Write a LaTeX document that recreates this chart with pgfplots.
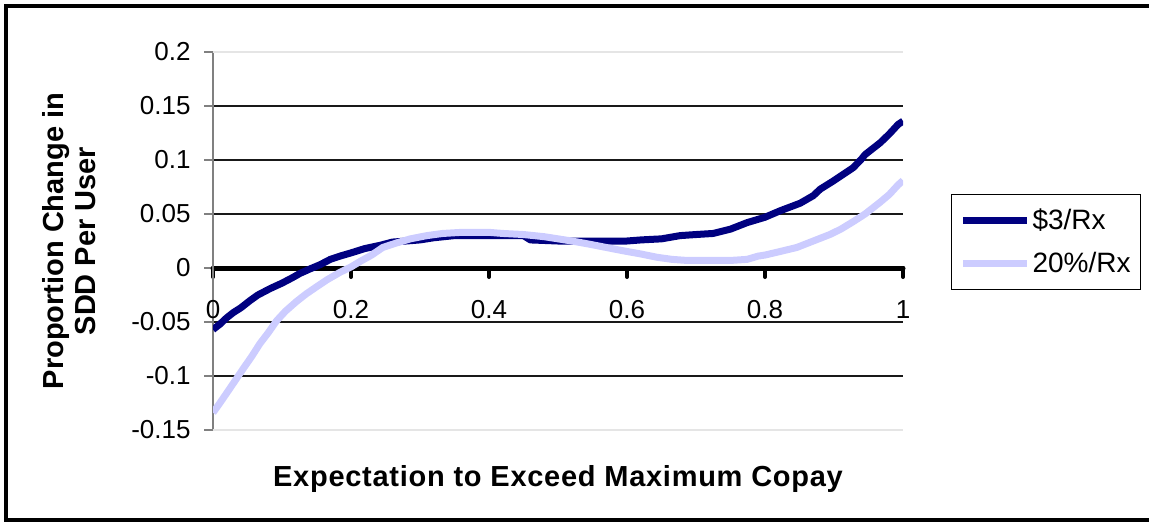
\documentclass[border=0pt]{standalone}
\usepackage{fontspec}
\setmainfont{Liberation Sans}
\usepackage{pgfplots}
\pgfplotsset{compat=1.18}
\definecolor{navyline}{RGB}{0,0,128}
\definecolor{lavline}{RGB}{204,204,255}
\definecolor{axisgray}{RGB}{128,128,128}

\begin{document}
\begin{tikzpicture}
% outer chart frame (right side runs off the page)
\draw[line width=1.75pt] (580pt,3.5pt) -- (3pt,3.5pt) -- (3pt,260.5pt) -- (580pt,260.5pt);
\begin{axis}[
  at={(106.5pt,48.5pt)}, anchor=south west,
  scale only axis, width=345pt, height=189pt,
  xmin=0, xmax=1, ymin=-0.15, ymax=0.2,
  axis x line*=middle, axis y line*=left,
  hide obscured x ticks=false, hide obscured y ticks=false,
  x axis line style={black, line width=2.5pt, line cap=round},
  y axis line style={axisgray, line width=0.75pt},
  xtick={0,0.2,0.4,0.6,0.8,1},
  xticklabels={0,0.2,0.4,0.6,0.8,1},
  ytick={-0.1,-0.05,0,0.05,0.1,0.15},
  yticklabels={-0.1,-0.05,0,0.05,0.1,0.15},
  extra y ticks={-0.15,0.2},
  extra y tick labels={-0.15,0.2},
  extra y tick style={grid=major, y grid style={black!10, line width=0.6pt},
    major grid style={black!10, line width=0.6pt}},
  ymajorgrids,
  y grid style={black!90, line width=0.55pt},
  tick align=outside,
  major tick length=4.5pt,
  xtick style={black, line width=2pt, line cap=round},
  ytick style={axisgray, line width=0.6pt},
  xticklabel style={font=\fontsize{13}{15}\selectfont, anchor=center, inner sep=0pt, yshift=-16.5pt},
  yticklabel style={font=\fontsize{13}{15}\selectfont, anchor=east, inner sep=0pt, xshift=-6.5pt},
  every axis x label/.style={at={(rel axis cs:0.5,-0.1296)}, anchor=center},
  every axis y label/.style={at={(rel axis cs:-0.2080,0.5)}, anchor=center, rotate=90},
  xlabel={\addfontfeature{LetterSpace=2.5}Expectation to Exceed Maximum Copay},
  xlabel style={font=\fontsize{14.5}{15}\selectfont\bfseries},
  ylabel={Proportion Change in\\SDD Per User},
  ylabel style={align=center, font=\fontsize{14.5}{16}\selectfont\bfseries},
  legend style={at={(1.0696,0.6243)}, anchor=north west, draw=black, line width=0.5pt,
    font=\fontsize{14}{16}\selectfont, inner xsep=4pt, inner ysep=6pt, row sep=8pt,
    nodes={inner sep=1pt}},
  legend cell align=left,
  legend image code/.code={\draw[#1] (0pt,0pt) -- (32pt,0pt);},
]
\addplot[navyline, line width=3.5pt, line join=round] coordinates {
(0.000,-0.057) (0.010,-0.052) (0.020,-0.046) (0.030,-0.041) (0.040,-0.037)
(0.054,-0.030) (0.065,-0.025) (0.083,-0.019) (0.100,-0.014) (0.115,-0.009)
(0.126,-0.005) (0.140,-0.001) (0.155,0.003) (0.170,0.008) (0.184,0.011)
(0.200,0.014) (0.220,0.018) (0.242,0.021) (0.260,0.024) (0.280,0.025)
(0.300,0.026) (0.320,0.028) (0.350,0.030) (0.400,0.030) (0.450,0.030)
(0.460,0.026) (0.500,0.025) (0.550,0.025) (0.600,0.025) (0.620,0.026)
(0.650,0.027) (0.677,0.030) (0.700,0.031) (0.725,0.032) (0.750,0.036)
(0.774,0.042) (0.800,0.047) (0.822,0.053) (0.851,0.060) (0.870,0.067)
(0.880,0.073) (0.900,0.081) (0.928,0.093) (0.940,0.101) (0.945,0.105)
(0.967,0.116) (0.980,0.124) (0.993,0.133) (1.000,0.136)
};
\addlegendentry{\$3/Rx}
\addplot[lavline, line width=3.5pt, line join=round] coordinates {
(0.000,-0.134) (0.010,-0.125) (0.025,-0.111) (0.044,-0.093) (0.056,-0.082)
(0.068,-0.070) (0.080,-0.060) (0.092,-0.049) (0.105,-0.040) (0.121,-0.031)
(0.135,-0.024) (0.151,-0.017) (0.165,-0.011) (0.184,-0.004) (0.200,0.001)
(0.213,0.006) (0.230,0.012) (0.246,0.019) (0.265,0.023) (0.286,0.027)
(0.310,0.030) (0.333,0.032) (0.360,0.033) (0.400,0.033) (0.420,0.032)
(0.450,0.031) (0.480,0.029) (0.500,0.027) (0.520,0.025) (0.546,0.022)
(0.570,0.019) (0.594,0.016) (0.620,0.013) (0.643,0.010) (0.665,0.008)
(0.687,0.007) (0.700,0.007) (0.750,0.007) (0.774,0.008) (0.790,0.011)
(0.800,0.012) (0.820,0.015) (0.846,0.019) (0.870,0.025) (0.894,0.031)
(0.910,0.036) (0.928,0.043) (0.945,0.050) (0.967,0.061) (0.980,0.068)
(0.993,0.077) (1.000,0.081)
};
\addlegendentry{20\%/Rx}
\end{axis}
\pgfresetboundingbox
\path[use as bounding box] (0pt,0pt) rectangle (574.5pt,263.5pt);
\end{tikzpicture}
\end{document}
